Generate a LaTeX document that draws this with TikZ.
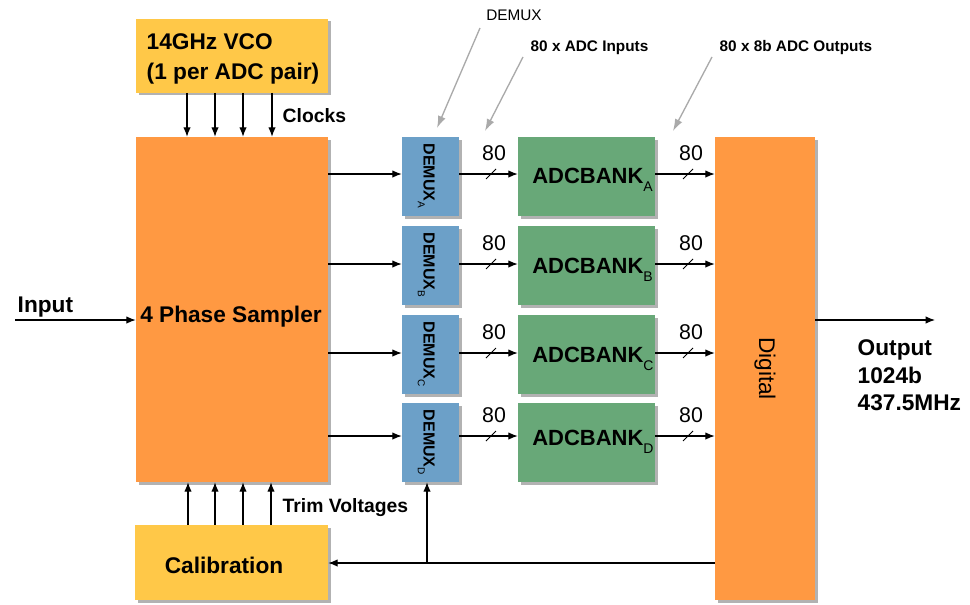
\documentclass[tikz,border=0pt]{standalone}
\usepackage{fontspec}
\setmainfont{Liberation Sans}
\usetikzlibrary{arrows.meta,shadows}
\definecolor{vcoY}{RGB}{255,200,72}
\definecolor{sampO}{RGB}{255,153,66}
\definecolor{demB}{RGB}{108,160,200}
\definecolor{adcG}{RGB}{104,168,120}
\definecolor{annG}{RGB}{170,170,170}
\begin{document}
\begin{tikzpicture}[x=0.75pt,y=-0.75pt,
  blk/.style 2 args={rectangle, inner sep=0pt, minimum width=#1*0.75pt, minimum height=#2*0.75pt,
     drop shadow={shadow xshift=2.2pt, shadow yshift=-2.2pt, fill=gray!60, opacity=1}},
  bigb/.style={font=\fontsize{17}{21.5}\selectfont\bfseries},
  midb/.style={font=\fontsize{14.5}{17}\selectfont\bfseries},
  annb/.style={font=\fontsize{11.5}{14}\selectfont\bfseries},
  conn/.style={draw, line width=0.8pt, -{Latex[length=7pt,width=5.5pt]}},
  annarr/.style={draw=annG, line width=1pt, -{Latex[length=9pt,width=6pt]}, annG}]
\useasboundingbox (0,0) rectangle (970,604);

% main blocks
\node[blk={192}{74}, fill=vcoY] (vco) at (232,55.5) {};
\node[align=left, font=\fontsize{17}{22}\selectfont\bfseries] (vcoT) at (233,59) {14GHz VCO\\(1 per ADC pair)};
\node[blk={192}{345}, fill=sampO] (samp) at (232,309.5) {};
\node[bigb] (sampT) at (231,317) {4 Phase Sampler};
\node[blk={193}{75}, fill=vcoY] (cal) at (231.5,562.5) {};
\node[bigb] (calT) at (224,565) {Calibration};
\node[blk={100}{463}, fill=sampO] (dig) at (765,368.5) {};
\node[rotate=-90, font=\fontsize{17}{20}\selectfont] (digT) at (dig) {Digital};

% clocks and trims
\foreach \x in {187,215,243,272}{
  \coordinate (ck\x) at (\x,0);
  \draw[conn] (vco.south -| ck\x) -- (samp.north -| ck\x);
}
\foreach \x in {188,215,243,271}{
  \coordinate (tr\x) at (\x,0);
  \draw[conn] (cal.north -| tr\x) -- (samp.south -| tr\x);
}
\node[midb, anchor=west] (clk) at (278,116) {Clocks};
\node[midb, anchor=west] (trim) at (278,508) {Trim Voltages};

% input
\coordinate (inp) at (15,320);
\draw[conn] (inp) -- (samp.west |- inp);
\node[bigb, anchor=west] (inpT) at (13,307) {Input};

% rows
\foreach \L/\top/\ay in {A/137/174,B/226/264,C/315/353,D/403/436}{
  \node[blk={57}{79}, fill=demB] (dem\L) at (430.5,\top+39.5) {};
  \node[rotate=-90, anchor=base west, inner sep=0pt, font=\fontsize{12}{14}\selectfont\bfseries]
     (demT\L) at (423.5,\top+6.5) {DEMUX\raisebox{-0.35em}{\fontsize{7.5}{8}\selectfont\mdseries\L}};
  \node[blk={137}{79}, fill=adcG] (adc\L) at (586.5,\top+39.5) {};
  \node[anchor=base west, inner sep=0pt, font=\fontsize{16.5}{20}\selectfont\bfseries]
     (adcT\L) at (532,\ay+9) {ADCBANK\raisebox{-0.4em}{\fontsize{10.5}{12}\selectfont\mdseries\L}};
  \coordinate (r\L) at (0,\ay);
  \draw[conn] (samp.east |- r\L) -- (dem\L.west |- r\L);
  \draw[conn] (dem\L.east |- r\L) -- (adc\L.west |- r\L);
  \draw[conn] (adc\L.east |- r\L) -- (dig.west |- r\L);
  \draw[line width=0.6pt] (486,\ay+5) -- (496,\ay-5);
  \draw[line width=0.6pt] (683,\ay+5) -- (693,\ay-5);
  \node[font=\fontsize{16}{18}\selectfont] (na\L) at (494,\ay-21) {80};
  \node[font=\fontsize{16}{18}\selectfont] (nb\L) at (691,\ay-21) {80};
}

% output
\coordinate (outp) at (935,320);
\draw[conn] (dig.east |- outp) -- (outp);
\node[anchor=north west, align=left, font=\fontsize{17}{20.6}\selectfont\bfseries] (outT) at (853,335) {Output\\1024b\\437.5MHz};

% feedback
\coordinate (fb) at (427,563);
\draw[conn] (dig.west |- fb) -- (cal.east |- fb);
\draw[conn] (fb) -- (fb |- demD.south);

% annotations
\node[font=\fontsize{11.5}{14}\selectfont] (annD) at (514,15) {DEMUX};
\node[annb, anchor=west] (annI) at (526,48) {80 x ADC Inputs};
\node[annb, anchor=west] (annO) at (715,48) {80 x 8b ADC Outputs};
\coordinate (aD0) at (480,28); \coordinate (aD1) at (437,128);
\coordinate (aI0) at (523,57); \coordinate (aI1) at (485,131);
\coordinate (aO0) at (712,57); \coordinate (aO1) at (673,131);
\draw[annarr] (aD0) -- (aD1);
\draw[annarr] (aI0) -- (aI1);
\draw[annarr] (aO0) -- (aO1);
\end{tikzpicture}
\end{document}
